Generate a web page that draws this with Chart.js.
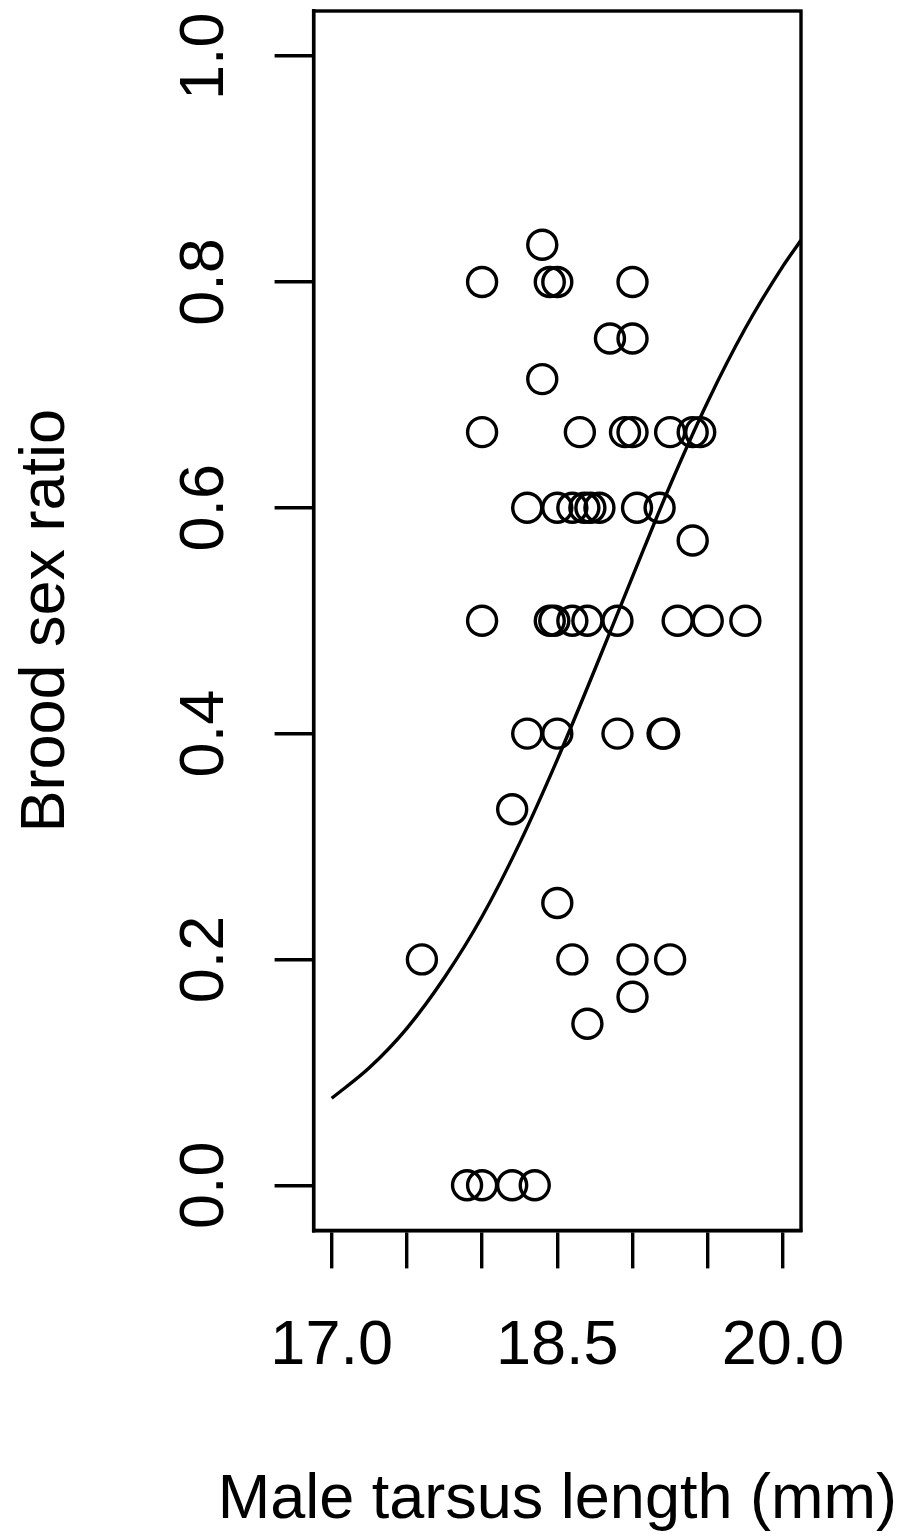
<!DOCTYPE html>
<html>
<head>
<meta charset="utf-8">
<script src="https://cdn.jsdelivr.net/npm/chart.js@4.4.1/dist/chart.umd.min.js"></script>
<style>
  html, body { margin: 0; padding: 0; background: #fff; }
  #wrap { width: 916px; height: 1539px; position: relative; }
</style>
</head>
<body>
<div id="wrap"><canvas id="c"></canvas></div>
<script>
// ---- data ----
const tarsus = [
  17.9, 18.0, 18.2, 18.35,
  18.7,
  19.0,
  17.6, 18.6, 19.0, 19.25,
  18.5,
  18.2,
  18.3, 18.5, 18.9, 19.2, 19.21,
  18.0, 18.45, 18.48, 18.6, 18.7, 18.9, 19.3, 19.5, 19.75,
  19.4,
  18.3, 18.5, 18.6, 18.68, 18.72, 18.78, 19.03, 19.18,
  18.0, 18.65, 18.95, 19.0, 19.25, 19.4, 19.45,
  18.4,
  18.85, 19.0,
  18.0, 18.45, 18.5, 19.0,
  18.4
];
const sexRatio = [
  0, 0, 0, 0,
  0.143,
  0.167,
  0.2, 0.2, 0.2, 0.2,
  0.25,
  0.333,
  0.4, 0.4, 0.4, 0.4, 0.4,
  0.5, 0.5, 0.5, 0.5, 0.5, 0.5, 0.5, 0.5, 0.5,
  0.571,
  0.6, 0.6, 0.6, 0.6, 0.6, 0.6, 0.6, 0.6,
  0.667, 0.667, 0.667, 0.667, 0.667, 0.667, 0.667,
  0.714,
  0.75, 0.75,
  0.8, 0.8, 0.8, 0.8,
  0.833
];
// fitted curve
const curveX = [17.0, 17.25, 17.5, 17.75, 18.0, 18.25, 18.5, 18.75, 19.0, 19.25, 19.5, 19.75, 20.0, 20.12];
const curveY = [0.077, 0.104, 0.139, 0.184, 0.238, 0.303, 0.377, 0.457, 0.539, 0.620, 0.694, 0.759, 0.814, 0.837];

const xTicks = [17.0, 17.5, 18.0, 18.5, 19.0, 19.5, 20.0];
const xTickLabels = ['17.0', '', '', '18.5', '', '', '20.0'];
const yTicks = [0.0, 0.2, 0.4, 0.6, 0.8, 1.0];
const yTickLabels = ['0.0', '0.2', '0.4', '0.6', '0.8', '1.0'];
const xTitle = 'Male tarsus length (mm)';
const yTitle = 'Brood sex ratio';

const FONT = '"Liberation Sans", Arial, Helvetica, sans-serif';
const FS = 63;
const LW = 3.4;

const frame = {
  id: 'frame',
  afterDraw(chart) {
    const { ctx, chartArea: a, scales: { y } } = chart;
    ctx.save();
    ctx.strokeStyle = '#000';
    ctx.lineWidth = LW;
    ctx.strokeRect(a.left, a.top, a.right - a.left, a.bottom - a.top);
    ctx.font = FS + 'px ' + FONT;
    ctx.fillStyle = '#000';
    ctx.textAlign = 'center';
    ctx.textBaseline = 'alphabetic';
    yTicks.forEach((v, i) => {
      ctx.save();
      ctx.translate(a.left - 91, y.getPixelForValue(v));
      ctx.rotate(-Math.PI / 2);
      ctx.fillText(yTickLabels[i], 0, 0);
      ctx.restore();
    });
    // x axis title (centred under the plot region, not width-limited)
    ctx.textBaseline = 'middle';
    ctx.fillText(xTitle, (a.left + a.right) / 2, a.bottom + 270);
    ctx.restore();
  }
};

new Chart(document.getElementById('c'), {
  type: 'scatter',
  data: {
    datasets: [
      {
        type: 'line',
        data: curveX.map((x, i) => ({ x, y: curveY[i] })),
        borderColor: '#000',
        borderWidth: LW,
        pointRadius: 0,
        fill: false,
        cubicInterpolationMode: 'monotone'
      },
      {
        data: tarsus.map((x, i) => ({ x, y: sexRatio[i] })),
        pointStyle: 'circle',
        pointRadius: 14.5,
        pointBorderWidth: LW,
        pointBorderColor: '#000',
        pointBackgroundColor: 'rgba(0,0,0,0)'
      }
    ]
  },
  options: {
    responsive: true,
    maintainAspectRatio: false,
    animation: false,
    layout: { autoPadding: false, padding: { left: 8, top: 11, right: 115, bottom: 115 } },
    plugins: { legend: { display: false }, tooltip: { enabled: false } },
    scales: {
      x: {
        type: 'linear',
        min: 16.88,
        max: 20.12,
        afterBuildTicks: (s) => { s.ticks = xTicks.map(v => ({ value: v })); },
        ticks: {
          autoSkip: false,
          maxRotation: 0,
          minRotation: 0,
          padding: 40,
          color: '#000',
          font: { family: FONT, size: FS },
          callback: (v) => { const i = xTicks.indexOf(v); return i >= 0 ? xTickLabels[i] : ''; }
        },
        grid: { drawOnChartArea: false, drawTicks: true, tickLength: 38, lineWidth: LW, color: '#000' },
        border: { display: true, color: '#000', width: LW },
        title: { display: false }
      },
      y: {
        type: 'linear',
        min: -0.04,
        max: 1.04,
        afterBuildTicks: (s) => { s.ticks = yTicks.map(v => ({ value: v })); },
        ticks: { display: false },
        grid: { drawOnChartArea: false, drawTicks: true, tickLength: 39, lineWidth: LW, color: '#000' },
        border: { display: true, color: '#000', width: LW },
        title: { display: true, text: yTitle, color: '#000', font: { family: FONT, size: FS }, padding: { top: 1, bottom: 190 } }
      }
    }
  },
  plugins: [frame]
});
</script>
</body>
</html>
